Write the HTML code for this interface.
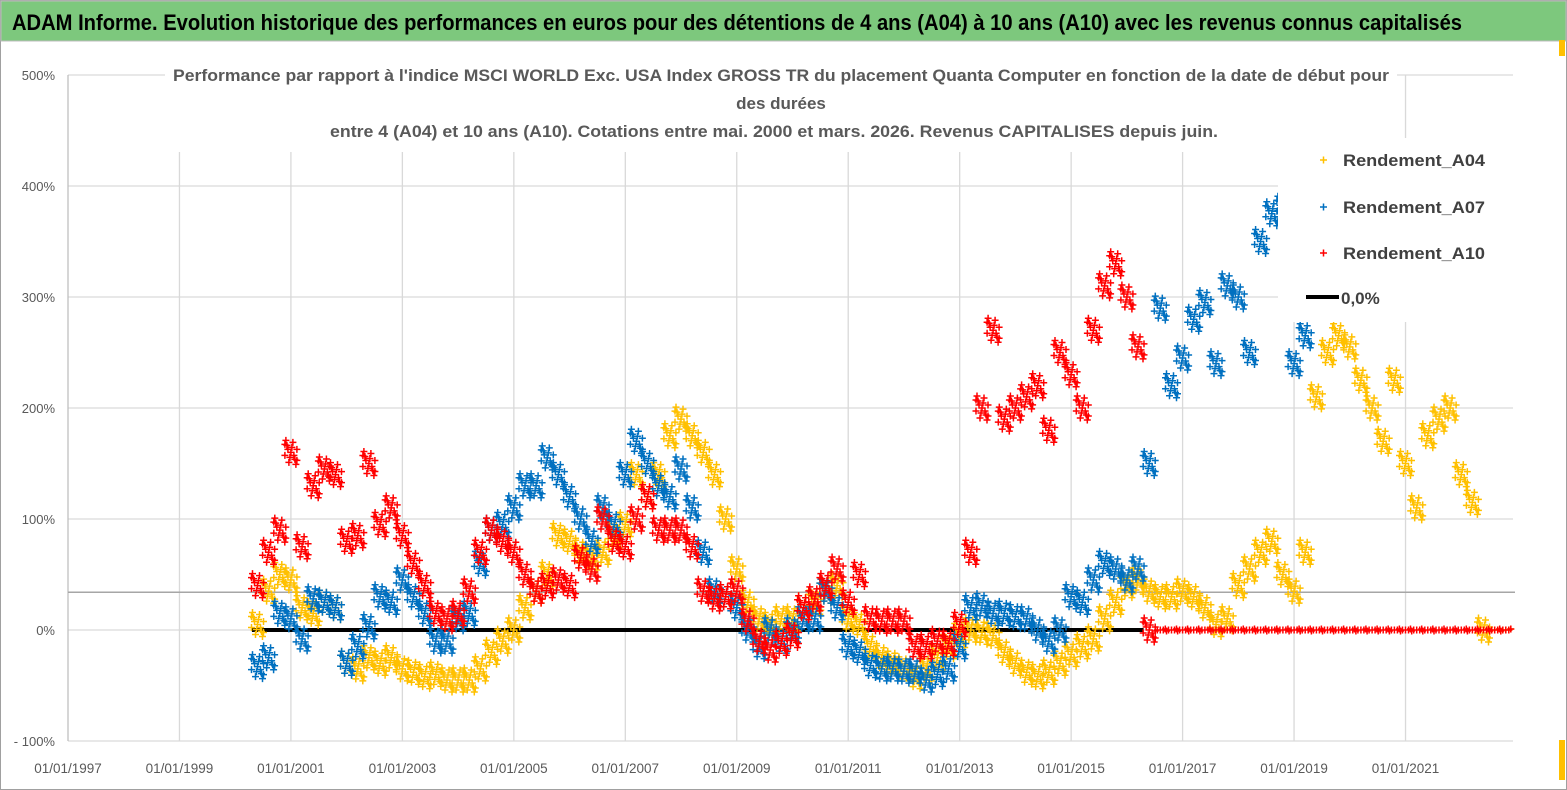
<!DOCTYPE html>
<html><head><meta charset="utf-8">
<style>
html,body{margin:0;padding:0;background:#fff;}
svg{display:block;font-family:"Liberation Sans",sans-serif;}
</style></head>
<body>
<svg id="chart" width="1567" height="790" viewBox="0 0 1567 790" xmlns="http://www.w3.org/2000/svg">
<rect x="0.5" y="0.5" width="1566" height="789" fill="#fff" stroke="#a0a0a0"/>
<rect x="1" y="1" width="1565" height="40" fill="#7dc87d" stroke="#bdbdbd"/>
<text x="12" y="30" font-size="22" font-weight="bold" fill="#000" textLength="1450" lengthAdjust="spacingAndGlyphs">ADAM Informe. Evolution historique des performances en euros pour des détentions de 4 ans (A04) à 10 ans (A10) avec les revenus connus capitalisés</text>
<g id="grid"></g>
<g id="series"></g>
<rect x="165" y="58" width="1232" height="94" fill="#fff"/>
<g fill="#595959" font-weight="bold" font-size="17" text-anchor="middle">
<text x="781" y="81" textLength="1216" lengthAdjust="spacingAndGlyphs">Performance par rapport à l'indice MSCI WORLD Exc. USA Index GROSS TR  du placement Quanta Computer  en fonction de la date de début pour</text>
<text x="781" y="109">des durées</text>
<text x="774" y="137" textLength="888" lengthAdjust="spacingAndGlyphs">entre 4 (A04) et 10 ans (A10). Cotations entre mai. 2000 et mars. 2026. Revenus CAPITALISES depuis juin.</text>
</g>
<rect x="1278" y="138" width="238" height="184" fill="#fff"/>
<g font-size="17" font-weight="bold" fill="#404040">
<g><path d="M1320 160h7M1323.5 156.5v7" stroke="#ffc000" stroke-width="1.5"/><text x="1343" y="166" textLength="142" lengthAdjust="spacingAndGlyphs">Rendement_A04</text></g>
<g><path d="M1320 207h7M1323.5 203.5v7" stroke="#0070c0" stroke-width="1.5"/><text x="1343" y="213" textLength="142" lengthAdjust="spacingAndGlyphs">Rendement_A07</text></g>
<g><path d="M1320 253h7M1323.5 249.5v7" stroke="#ff0000" stroke-width="1.5"/><text x="1343" y="259" textLength="142" lengthAdjust="spacingAndGlyphs">Rendement_A10</text></g>
<g><path d="M1306 297h33" stroke="#000" stroke-width="4"/><text x="1341" y="304">0,0%</text></g>
</g>
<rect x="1559" y="40" width="6" height="16" fill="#ffc000"/>
<rect x="1559" y="740" width="6" height="40" fill="#ffc000"/>
</svg>
<script>
const yTickValues = [500, 400, 300, 200, 100, 0, -100];
const yTickLabels = ["500%", "400%", "300%", "200%", "100%", "0%", "- 100%"];
const xTickYears = [1997, 1999, 2001, 2003, 2005, 2007, 2009, 2011, 2013, 2015, 2017, 2019, 2021];
const xTickLabels = ["01/01/1997","01/01/1999","01/01/2001","01/01/2003","01/01/2005","01/01/2007","01/01/2009","01/01/2011","01/01/2013","01/01/2015","01/01/2017","01/01/2019","01/01/2021"];
const startYear = 2000.4;
const stepYears = 0.2;
const zeroLineStart = 2000.3;
const zeroLineEnd = 2016.3;
const refLineValue = 34;
const rendementA04 = [5,35,50,45,20,15,25,20,-30,-35,-25,-30,-25,-35,-38,-42,-40,-45,-45,-45,-35,-20,-10,0,20,35,50,85,80,70,65,70,85,95,140,120,140,175,190,175,160,140,100,55,25,10,5,10,10,20,25,35,40,10,5,-15,-25,-30,-35,-42,-35,-25,-15,-5,0,-2,-5,-20,-30,-38,-42,-38,-30,-22,-15,-8,10,25,40,45,35,30,30,35,30,20,5,10,40,55,70,80,50,35,70,210,250,265,255,225,200,170,225,150,110,175,190,200,140,115,0,0,0];
const rendementA07 = [-33,-25,15,10,-8,28,25,20,-30,-15,3,30,25,45,30,15,-10,-10,10,15,60,90,95,110,130,130,155,140,120,100,80,110,95,140,170,150,130,120,145,110,70,35,30,20,0,-15,0,-10,0,10,10,35,20,-15,-20,-32,-35,-35,-37,-37,-45,-40,-35,-15,20,22,15,15,12,10,0,-10,0,30,25,45,60,55,45,55,150,290,220,245,280,295,240,310,300,250,350,375,380,240,265];
const rendementA10 = [40,70,90,160,75,130,145,140,80,85,150,95,110,85,60,40,15,10,15,35,70,90,80,70,50,35,40,45,40,65,55,100,80,75,100,120,90,90,90,75,35,28,30,35,8,-10,-18,-12,-5,20,28,40,55,25,50,10,8,8,8,-15,-15,-10,-12,5,70,200,270,190,200,210,220,180,250,230,200,270,310,330,300,255,0,0,0,0,0,0,0,0,0,0,0,0,0,0,0,0,0,0,0,0,0,0,0,0,0,0,0,0,0,0,0,0,0];

const NS = "http://www.w3.org/2000/svg";
const plotLeft = 68, plotRight = 1513, yearPx = 55.73;
function xScale(yr){ return plotLeft + (yr - 1997) * yearPx; }
function yScale(v){ return 630 - v * 1.11; }
function mk(tag, attrs, parent){ const e = document.createElementNS(NS, tag); for (const k in attrs) e.setAttribute(k, attrs[k]); parent.appendChild(e); return e; }

const grid = document.getElementById('grid');
yTickValues.forEach((v, i) => {
  const l = mk('line', {x1: plotLeft, x2: plotRight, y1: yScale(v), y2: yScale(v), stroke: '#d9d9d9', 'stroke-width': 1.3}, grid);
  
  
  const t = mk('text', {x: 55, y: yScale(v) + 5, 'text-anchor': 'end', 'font-size': 13, fill: '#595959'}, grid);
  t.textContent = yTickLabels[i];
  
  
});
xTickYears.forEach((yr, i) => {
  const x = xScale(yr);
  const l = mk('line', {x1: x, x2: x, y1: yScale(500), y2: yScale(-100), stroke: i === 0 ? '#bfbfbf' : '#d9d9d9', 'stroke-width': 1.3}, grid);
  
  
  const t = mk('text', {x: x, y: 773, 'text-anchor': 'middle', 'font-size': 13.5, fill: '#595959'}, grid);
  t.textContent = xTickLabels[i];
  
  
});
const ref = mk('line', {x1: plotLeft, x2: plotRight + 2, y1: yScale(refLineValue), y2: yScale(refLineValue), stroke: '#a6a6a6', 'stroke-width': 1.6}, grid);



const layer = document.getElementById('series');
const zl = mk('line', {x1: xScale(zeroLineStart), x2: xScale(zeroLineEnd), y1: yScale(0), y2: yScale(0), stroke: '#000', 'stroke-width': 4}, layer);



const cluster = [[0,0],[-4,-7],[4,7],[-6,3],[6,-3],[-2,10],[2,-10],[3,3],[-3,-3],[-5,-12],[5,12],[-1,5],[1,-5],[6,8],[-6,-8]];
function drawSeries(vals, color, name){
  const g = mk('g', {stroke: color, 'stroke-width': 1.5, fill: 'none'}, layer);
  
  
  let d = '';
  vals.forEach((v, i) => {
    const x = xScale(startYear + i * stepYears), y = yScale(v);
    const pts = v === 0 && i > 0 && vals[i-1] === 0 ? [[0,0],[-3,0],[3,0],[-5,1],[5,-1]] : cluster;
    pts.forEach(([dx, dy]) => {
      const cx = x + dx, cy = y + dy;
      d += `M${(cx-3.5).toFixed(1)} ${cy.toFixed(1)}h7M${cx.toFixed(1)} ${(cy-3.5).toFixed(1)}v7`;
    });
  });
  const p = mk('path', {d: d}, g);
  
  
}
drawSeries(rendementA04, '#ffc000', 'series-a04');
drawSeries(rendementA07, '#0070c0', 'series-a07');
drawSeries(rendementA10, '#ff0000', 'series-a10');
</script>
</body></html>
